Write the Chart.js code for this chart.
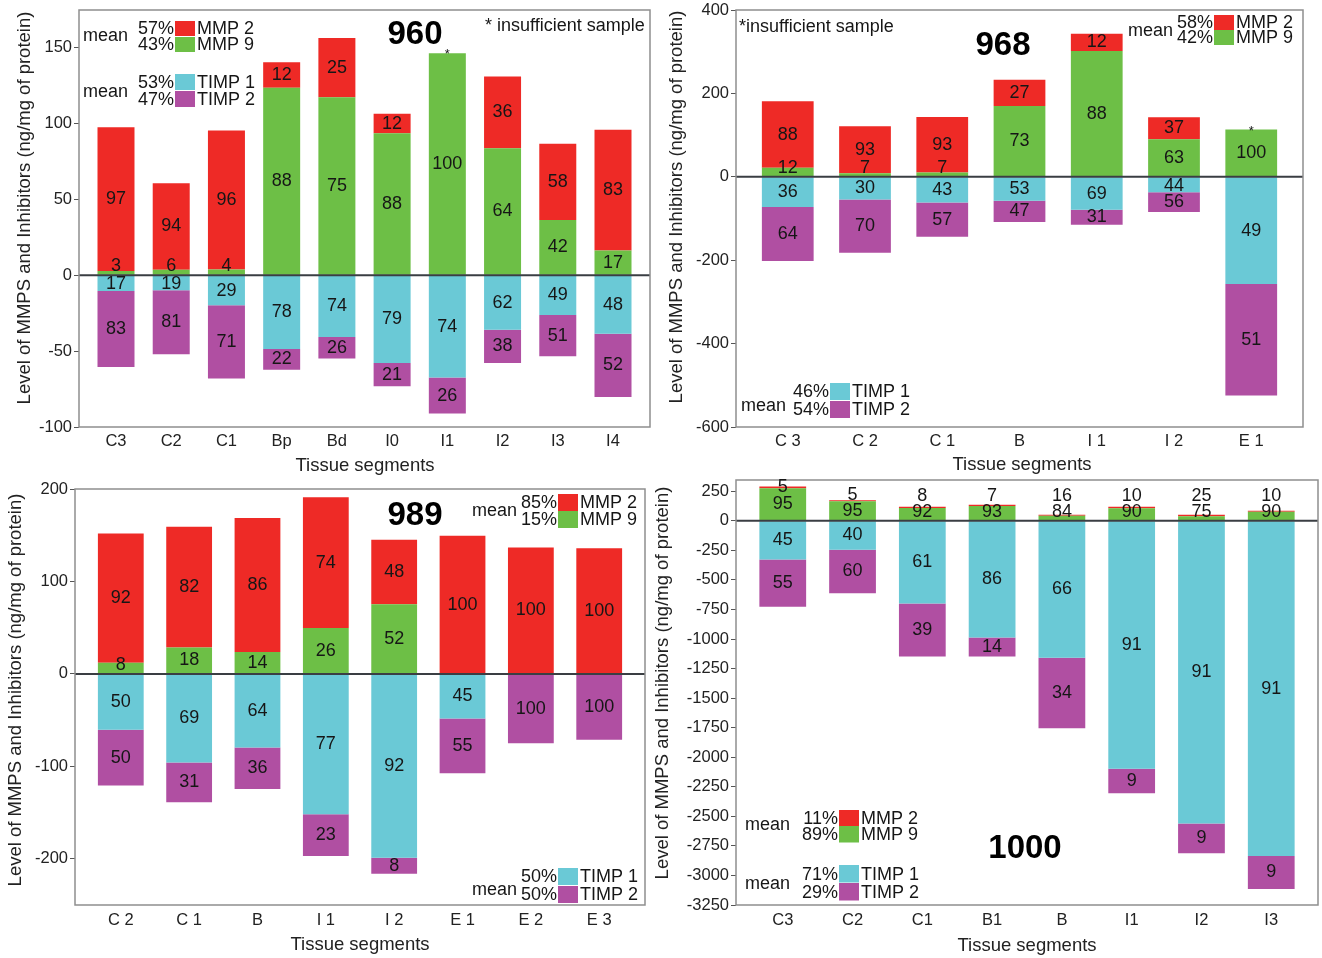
<!DOCTYPE html>
<html>
<head>
<meta charset="utf-8">
<title>MMP and TIMP levels by tissue segment</title>
<script src="https://cdn.jsdelivr.net/npm/chart.js@4.4.1/dist/chart.umd.min.js"></script>
<style>
  html, body { margin: 0; padding: 0; background: #fff; }
  body { width: 1322px; height: 958px; position: relative; overflow: hidden; }
  canvas { position: absolute; }
</style>
</head>
<body>
<canvas id="c960"></canvas>
<canvas id="c968"></canvas>
<canvas id="c989"></canvas>
<canvas id="c1000"></canvas>
<script>
// ---------- Sample 960 ----------
const seg960 = ['C3', 'C2', 'C1', 'Bp', 'Bd', 'I0', 'I1', 'I2', 'I3', 'I4'];
const mmpTotal960 = [97.7, 60.8, 95.5, 140.6, 156.6, 106.5, 146.5, 131.1, 86.8, 96];
const mmp2Pct960 = [97, 94, 96, 12, 25, 12, 0, 36, 58, 83];
const mmp9Pct960 = [3, 6, 4, 88, 75, 88, 100, 64, 42, 17];
const timpTotal960 = [-60.4, -52, -68, -62.2, -54.9, -73.1, -91.1, -57.8, -53.4, -80.2];
const timp1Pct960 = [17, 19, 29, 78, 74, 79, 74, 62, 49, 48];
const timp2Pct960 = [83, 81, 71, 22, 26, 21, 26, 38, 51, 52];
const yTicks960 = [-100, -50, 0, 50, 100, 150];
const flagged960 = ['I1'];
const mmpMean960 = ['57%', '43%'];
const timpMean960 = ['53%', '47%'];

// ---------- Sample 968 ----------
const seg968 = ['C 3', 'C 2', 'C 1', 'B', 'I 1', 'I 2', 'E 1'];
const mmpTotal968 = [181, 121, 143.5, 232.9, 342.9, 142.7, 113.2];
const mmp2Pct968 = [88, 93, 93, 27, 12, 37, 0];
const mmp9Pct968 = [12, 7, 7, 73, 88, 63, 100];
const timpTotal968 = [-201.8, -182, -143.5, -108.5, -114.8, -84.5, -524.7];
const timp1Pct968 = [36, 30, 43, 53, 69, 44, 49];
const timp2Pct968 = [64, 70, 57, 47, 31, 56, 51];
const yTicks968 = [-600, -400, -200, 0, 200, 400];
const flagged968 = ['E 1'];
const mmpMean968 = ['58%', '42%'];
const timpMean968 = ['46%', '54%'];

// ---------- Sample 989 ----------
const seg989 = ['C 2', 'C 1', 'B', 'I 1', 'I 2', 'E 1', 'E 2', 'E 3'];
const mmpTotal989 = [151.9, 159.1, 168.5, 191, 145, 149.4, 136.7, 136];
const mmp2Pct989 = [92, 82, 86, 74, 48, 100, 100, 100];
const mmp9Pct989 = [8, 18, 14, 26, 52, 0, 0, 0];
const timpTotal989 = [-120.8, -138.9, -124.4, -197.1, -216.3, -107.4, -74.9, -71.2];
const timp1Pct989 = [50, 69, 64, 77, 92, 45, 0, 0];
const timp2Pct989 = [50, 31, 36, 23, 8, 55, 100, 100];
const yTicks989 = [-200, -100, 0, 100, 200];
const flagged989 = [];
const mmpMean989 = ['85%', '15%'];
const timpMean989 = ['50%', '50%'];

// ---------- Sample 1000 ----------
const seg1000 = ['C3', 'C2', 'C1', 'B1', 'B', 'I1', 'I2', 'I3'];
const mmpTotal1000 = [290, 174, 118, 135, 51, 118, 51, 85];
const mmp2Pct1000 = [5, 5, 8, 7, 16, 10, 25, 10];
const mmp9Pct1000 = [95, 95, 92, 93, 84, 90, 75, 90];
const timpTotal1000 = [-728, -612, -1148, -1148, -1755, -2305, -2813, -3115];
const timp1Pct1000 = [45, 40, 61, 86, 66, 91, 91, 91];
const timp2Pct1000 = [55, 60, 39, 14, 34, 9, 9, 9];
const yTicks1000 = [-3250, -3000, -2750, -2500, -2250, -2000, -1750, -1500, -1250, -1000, -750, -500, -250, 0, 250];
const flagged1000 = [];
const mmpMean1000 = ['11%', '89%'];
const timpMean1000 = ['71%', '29%'];

// ---------- drawing ----------
const FONT = '"Liberation Sans", Arial, Helvetica, sans-serif';
const COL = { mmp2: '#ee2a26', mmp9: '#6dbf46', timp1: '#6ac9d6', timp2: '#b04fa2' };
const TEXT = '#161616';
const SIDE_PAD = 0.67;   // extra room (in category units) at both ends of the x axis
const Y_TITLE = 'Level of MMPS and Inhibitors (ng/mg of protein)';
const X_TITLE = 'Tissue segments';
const LABEL_PX = 18;
const TITLE_PX = 18.5;

// amount of one component = total level x its share
const part = (total, pct) => total.map((t, i) => t * pct[i] / 100);

function legendRows(mean, names, colors) {
  return mean.map((m, k) => [m, colors[k], names[k]]);
}

const panels = [
  {
    id: 'c960', frame: { left: 0, top: 0, width: 661, height: 479 },
    box: { left: 79, top: 10, right: 650, bottom: 427 },
    yMin: -100, yMax: 175, yTicks: yTicks960, segs: seg960,
    mmpTotal: mmpTotal960, mmp2Pct: mmp2Pct960, mmp9Pct: mmp9Pct960,
    timpTotal: timpTotal960, timp1Pct: timp1Pct960, timp2Pct: timp2Pct960,
    flagged: flagged960, xPad: 5,
    sample: { text: '960', x: 415, y: 35 },
    note: { text: '* insufficient sample', x: 485, y: 26 },
    yTitle: { x: 25, y: 208 }, xTitle: { x: 365, y: 466 },
    legends: [
      { meanRight: 128, meanY: 36, swX: 175, tops: [21, 37], swH: 15,
        rows: legendRows(mmpMean960, ['MMP 2', 'MMP 9'], [COL.mmp2, COL.mmp9]) },
      { meanRight: 128, meanY: 92, swX: 175, tops: [74, 91], swH: 16,
        rows: legendRows(timpMean960, ['TIMP 1', 'TIMP 2'], [COL.timp1, COL.timp2]) }
    ]
  },
  {
    id: 'c968', frame: { left: 661, top: 0, width: 661, height: 479 },
    box: { left: 736, top: 10, right: 1303, bottom: 427 },
    yMin: -600, yMax: 400, yTicks: yTicks968, segs: seg968,
    mmpTotal: mmpTotal968, mmp2Pct: mmp2Pct968, mmp9Pct: mmp9Pct968,
    timpTotal: timpTotal968, timp1Pct: timp1Pct968, timp2Pct: timp2Pct968,
    flagged: flagged968, xPad: 5,
    sample: { text: '968', x: 1003, y: 46 },
    note: { text: '*insufficient sample', x: 739, y: 27 },
    yTitle: { x: 677, y: 207 }, xTitle: { x: 1022, y: 465 },
    legends: [
      { meanRight: 1173, meanY: 31, swX: 1214, tops: [15, 30], swH: 15,
        rows: legendRows(mmpMean968, ['MMP 2', 'MMP 9'], [COL.mmp2, COL.mmp9]) },
      { meanRight: 786, meanY: 406, swX: 830, tops: [383, 401], swH: 17,
        rows: legendRows(timpMean968, ['TIMP 1', 'TIMP 2'], [COL.timp1, COL.timp2]) }
    ]
  },
  {
    id: 'c989', frame: { left: 0, top: 479, width: 647, height: 479 },
    box: { left: 75, top: 489, right: 645, bottom: 905 },
    yMin: -250, yMax: 200, yTicks: yTicks989, segs: seg989,
    mmpTotal: mmpTotal989, mmp2Pct: mmp2Pct989, mmp9Pct: mmp9Pct989,
    timpTotal: timpTotal989, timp1Pct: timp1Pct989, timp2Pct: timp2Pct989,
    flagged: flagged989, xPad: 6,
    sample: { text: '989', x: 415, y: 516 },
    note: null,
    yTitle: { x: 16, y: 690 }, xTitle: { x: 360, y: 945 },
    legends: [
      { meanRight: 517, meanY: 511, swX: 558, tops: [494, 511], swH: 17,
        rows: legendRows(mmpMean989, ['MMP 2', 'MMP 9'], [COL.mmp2, COL.mmp9]) },
      { meanRight: 517, meanY: 890, swX: 558, tops: [868, 886], swH: 17,
        rows: legendRows(timpMean989, ['TIMP 1', 'TIMP 2'], [COL.timp1, COL.timp2]) }
    ]
  },
  {
    id: 'c1000', frame: { left: 647, top: 479, width: 675, height: 479 },
    box: { left: 736, top: 480, right: 1318, bottom: 905 },
    yMin: -3250, yMax: 345, yTicks: yTicks1000, segs: seg1000,
    mmpTotal: mmpTotal1000, mmp2Pct: mmp2Pct1000, mmp9Pct: mmp9Pct1000,
    timpTotal: timpTotal1000, timp1Pct: timp1Pct1000, timp2Pct: timp2Pct1000,
    flagged: flagged1000, xPad: 6,
    sample: { text: '1000', x: 1025, y: 849 },
    note: null,
    yTitle: { x: 663, y: 683 }, xTitle: { x: 1027, y: 946 },
    legends: [
      { meanRight: 790, meanY: 825, swX: 839, tops: [810, 826], swH: 16.5,
        rows: legendRows(mmpMean1000, ['MMP 2', 'MMP 9'], [COL.mmp2, COL.mmp9]) },
      { meanRight: 790, meanY: 884, swX: 839, tops: [865, 883], swH: 17.5,
        rows: legendRows(timpMean1000, ['TIMP 1', 'TIMP 2'], [COL.timp1, COL.timp2]) }
    ]
  }
];

// Zero line, plot frame, in-bar percentages, flags, legends and titles
function makeOverlay(p) {
  const X = v => v - p.frame.left;
  const Y = v => v - p.frame.top;
  return {
    id: 'overlay',
    afterDraw(chart) {
      const ctx = chart.ctx;
      const area = chart.chartArea;
      const zero = chart.scales.y.getPixelForValue(0);
      ctx.save();

      ctx.strokeStyle = '#3a3e43';
      ctx.lineWidth = 2;
      ctx.beginPath();
      ctx.moveTo(area.left, zero);
      ctx.lineTo(area.right, zero);
      ctx.stroke();

      ctx.strokeStyle = '#8e8e8e';
      ctx.lineWidth = 1.5;
      ctx.strokeRect(area.left, area.top, area.right - area.left, area.bottom - area.top);

      const bars = [0, 1, 2, 3].map(k => chart.getDatasetMeta(k).data);
      const pcts = [p.mmp9Pct, p.mmp2Pct, p.timp1Pct, p.timp2Pct];
      const GAP = 9, STEP = 16;
      ctx.font = LABEL_PX + 'px ' + FONT;
      ctx.fillStyle = TEXT;
      ctx.textAlign = 'center';
      ctx.textBaseline = 'middle';
      const mid = b => (b.y + b.base) / 2;
      p.segs.forEach((s, i) => {
        // positive side: MMP 9 next to zero, MMP 2 above it
        let inner = null;
        if (pcts[0][i] > 0) {
          const b = bars[0][i];
          inner = Math.min(mid(b), zero - GAP);
          ctx.fillText(String(pcts[0][i]), b.x, inner);
        }
        if (pcts[1][i] > 0) {
          const b = bars[1][i];
          let y = mid(b);
          if (inner !== null) y = Math.min(y, inner - STEP);
          ctx.fillText(String(pcts[1][i]), b.x, y);
        }
        // negative side: TIMP 1 next to zero, TIMP 2 below it
        inner = null;
        if (pcts[2][i] > 0) {
          const b = bars[2][i];
          inner = Math.max(mid(b), zero + GAP);
          ctx.fillText(String(pcts[2][i]), b.x, inner);
        }
        if (pcts[3][i] > 0) {
          const b = bars[3][i];
          let y = mid(b);
          if (inner !== null) y = Math.max(y, inner + STEP);
          ctx.fillText(String(pcts[3][i]), b.x, y);
        }
        if (p.flagged.includes(s)) {
          const top = Math.min(bars[0][i].y, bars[1][i].y);
          ctx.save();
          ctx.font = '13px ' + FONT;
          ctx.textBaseline = 'alphabetic';
          ctx.fillText('*', bars[0][i].x, top + 5);
          ctx.restore();
        }
      });

      // legends
      ctx.font = LABEL_PX + 'px ' + FONT;
      p.legends.forEach(L => {
        ctx.fillStyle = TEXT;
        ctx.textAlign = 'right';
        ctx.fillText('mean', X(L.meanRight), Y(L.meanY));
        L.rows.forEach(([pct, color, name], k) => {
          const top = L.tops[k];
          const cy = top + L.swH / 2 + 1;
          ctx.fillStyle = color;
          ctx.fillRect(X(L.swX), Y(top), 20, L.swH);
          ctx.fillStyle = TEXT;
          ctx.textAlign = 'right';
          ctx.fillText(pct, X(L.swX - 1), Y(cy));
          ctx.textAlign = 'left';
          ctx.fillText(name, X(L.swX + 22), Y(cy));
        });
      });

      // sample number and note
      ctx.fillStyle = '#000';
      ctx.textAlign = 'center';
      ctx.font = 'bold 33px ' + FONT;
      ctx.fillText(p.sample.text, X(p.sample.x), Y(p.sample.y));
      if (p.note) {
        ctx.font = LABEL_PX + 'px ' + FONT;
        ctx.fillStyle = TEXT;
        ctx.textAlign = 'left';
        ctx.fillText(p.note.text, X(p.note.x), Y(p.note.y));
      }

      // axis titles
      ctx.font = TITLE_PX + 'px ' + FONT;
      ctx.fillStyle = '#222';
      ctx.textAlign = 'center';
      ctx.fillText(X_TITLE, X(p.xTitle.x), Y(p.xTitle.y));
      ctx.save();
      ctx.translate(X(p.yTitle.x), Y(p.yTitle.y));
      ctx.rotate(-Math.PI / 2);
      ctx.fillText(Y_TITLE, 0, 0);
      ctx.restore();

      ctx.restore();
    }
  };
}

function build(p) {
  const canvas = document.getElementById(p.id);
  canvas.width = p.frame.width;
  canvas.height = p.frame.height;
  canvas.style.left = p.frame.left + 'px';
  canvas.style.top = p.frame.top + 'px';

  const pts = vals => vals.map((v, i) => ({ x: i, y: v }));
  const datasets = [
    { label: 'MMP 9', data: pts(part(p.mmpTotal, p.mmp9Pct)), backgroundColor: COL.mmp9 },
    { label: 'MMP 2', data: pts(part(p.mmpTotal, p.mmp2Pct)), backgroundColor: COL.mmp2 },
    { label: 'TIMP 1', data: pts(part(p.timpTotal, p.timp1Pct)), backgroundColor: COL.timp1 },
    { label: 'TIMP 2', data: pts(part(p.timpTotal, p.timp2Pct)), backgroundColor: COL.timp2 }
  ].map(d => Object.assign(d, { stack: 'all', borderWidth: 0, barPercentage: 0.67, categoryPercentage: 1 }));

  const tickFont = { family: FONT, size: 16.5 };

  new Chart(canvas, {
    type: 'bar',
    data: { datasets },
    options: {
      responsive: false,
      animation: false,
      devicePixelRatio: 1,
      layout: {
        padding: {
          left: 0,
          top: p.box.top - p.frame.top,
          right: p.frame.left + p.frame.width - p.box.right,
          bottom: 0
        }
      },
      plugins: { legend: { display: false }, tooltip: { enabled: false }, title: { display: false } },
      scales: {
        x: {
          type: 'linear',
          stacked: true,
          offset: false,
          min: -SIDE_PAD,
          max: p.segs.length - 1 + SIDE_PAD,
          grid: { display: false, drawTicks: false },
          border: { display: false },
          afterBuildTicks: s => { s.ticks = p.segs.map((_, i) => ({ value: i })); },
          ticks: {
            autoSkip: false, maxRotation: 0, minRotation: 0, padding: p.xPad,
            font: tickFont, color: '#222',
            callback: v => p.segs[v]
          },
          afterFit: s => {
            s.height = p.frame.top + p.frame.height - p.box.bottom;
            s.paddingLeft = 0; s.paddingRight = 0;
          }
        },
        y: {
          type: 'linear',
          stacked: true,
          min: p.yMin,
          max: p.yMax,
          afterBuildTicks: s => { s.ticks = p.yTicks.map(v => ({ value: v })); },
          grid: { drawOnChartArea: false, drawTicks: true, tickLength: 5, tickColor: '#555', tickWidth: 1 },
          border: { display: false },
          ticks: { autoSkip: false, padding: 2, font: tickFont, color: '#222', callback: v => String(v) },
          afterFit: s => {
            s.width = p.box.left - p.frame.left;
            s.paddingTop = 0; s.paddingBottom = 0;
          }
        }
      }
    },
    plugins: [makeOverlay(p)]
  });
}

panels.forEach(build);
</script>
</body>
</html>
